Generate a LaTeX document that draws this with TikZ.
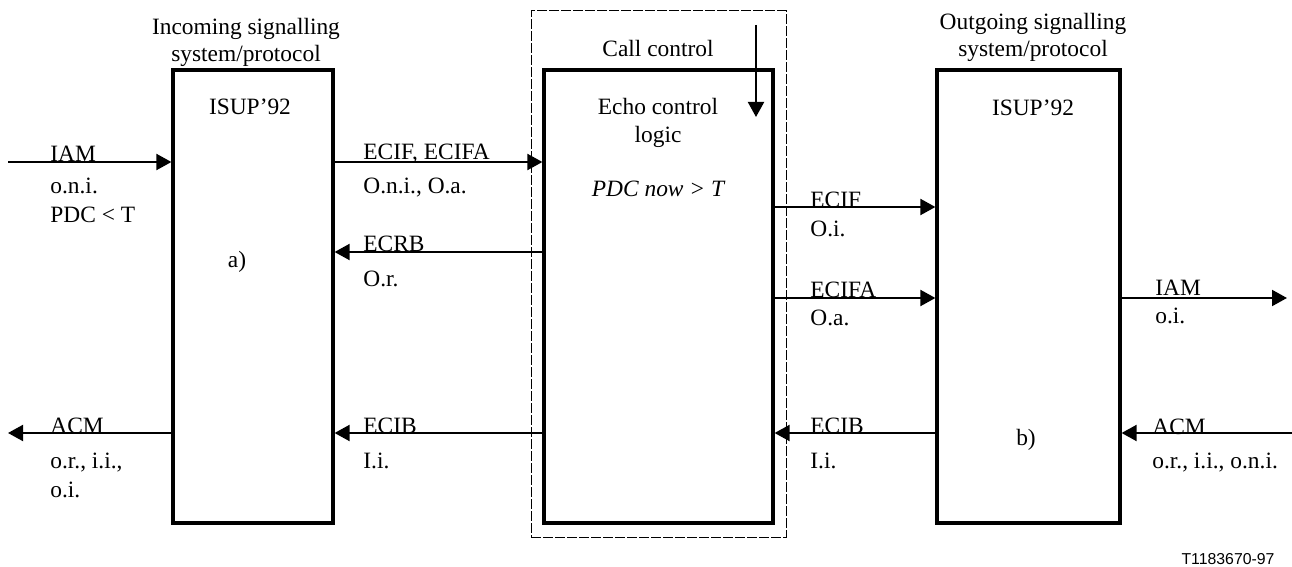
\documentclass[tikz,border=0pt]{standalone}
\usepackage{fontspec}
\setmainfont{Liberation Serif}
\newfontfamily\tagfont{Liberation Sans}
\usetikzlibrary{arrows.meta}
\tikzset{
  blk/.style={draw, rectangle, line width=1.6pt, inner sep=0pt},
  sig/.style={line width=1pt, -{Triangle[length=7.5pt,width=8pt]}},
  lbl/.style={anchor=base west, inner sep=0pt},
  mid/.style={anchor=base, inner sep=0pt, align=center}
}
\begin{document}
\begin{tikzpicture}[x=0.5pt,y=-0.5pt,font=\fontsize{11.7}{14}\selectfont]
\useasboundingbox (0,0) rectangle (1292,567);
\node[draw, rectangle, line width=0.5pt, dash pattern=on 5pt off 1pt, inner sep=0pt,
      minimum width=127.5pt, minimum height=263pt] (callctl) at (658.5,274) {};
\node[blk, minimum width=80pt, minimum height=226.5pt] (inbox) at (253,296.5) {};
\node[blk, minimum width=114.5pt, minimum height=226.5pt] (ccbox) at (658.5,296.5) {};
\node[blk, minimum width=91.5pt, minimum height=226.5pt] (outbox) at (1028.5,296.5) {};
\node[mid] (intitle1) at (246,35) {Incoming signalling};
\node[mid] (intitle2) at (246,62) {system/protocol};
\node[mid] (cctitle) at (658,57) {Call control};
\node[mid] (outtitle1) at (1033,30) {Outgoing signalling};
\node[mid] (outtitle2) at (1033,57) {system/protocol};
\node[mid] (inisup) at (250,115) {ISUP'92};
\node[mid] (outisup) at (1033,116) {ISUP'92};
\node[mid] (echo1) at (658,115) {Echo control};
\node[mid] (echo2) at (658,143) {logic};
\node[mid] (pdcnow) at (658,197) {\itshape PDC now > T};
\node[mid] (tagA) at (237,267) {a)};
\node[mid] (tagB) at (1026,445) {b)};
\node[anchor=base, inner sep=0pt, font=\tagfont\fontsize{7.9}{9}\selectfont] (figno) at (1228,564) {T1183670-97};
\coordinate (ctrltop) at (756,25);
\coordinate (ctrlend) at (756,117);
\coordinate (iamin) at (8,162);
\coordinate (iamout) at (1287,298);
\coordinate (acmin) at (1292,433);
\coordinate (acmout) at (8,433);
\coordinate (rowA) at (0,162);
\coordinate (rowB) at (0,252);
\coordinate (rowC) at (0,207);
\coordinate (rowD) at (0,298);
\coordinate (rowE) at (0,433);
\draw[sig] (ctrltop) -- (ctrlend);
\draw[sig] (iamin) -- (inbox.west |- iamin);
\draw[sig] (inbox.east |- rowA) -- (ccbox.west |- rowA);
\draw[sig] (ccbox.west |- rowB) -- (inbox.east |- rowB);
\draw[sig] (ccbox.east |- rowC) -- (outbox.west |- rowC);
\draw[sig] (ccbox.east |- rowD) -- (outbox.west |- rowD);
\draw[sig] (outbox.east |- iamout) -- (iamout);
\draw[sig] (acmin) -- (outbox.east |- acmin);
\draw[sig] (outbox.west |- rowE) -- (ccbox.east |- rowE);
\draw[sig] (ccbox.west |- rowE) -- (inbox.east |- rowE);
\draw[sig] (inbox.west |- acmout) -- (acmout);
\node[lbl] (iamA) at (50,162) {IAM};
\node[lbl] (iamB) at (50,193) {o.n.i.};
\node[lbl] (iamC) at (50,222) {PDC < T};
\node[lbl] (ecifA) at (363,160) {ECIF, ECIFA};
\node[lbl] (ecifB) at (363,194) {O.n.i., O.a.};
\node[lbl] (ecrbA) at (363,251) {ECRB};
\node[lbl] (ecrbB) at (363,286) {O.r.};
\node[lbl] (ecibA) at (363,433) {ECIB};
\node[lbl] (ecibB) at (363,468) {I.i.};
\node[lbl] (acmA) at (50,433) {ACM};
\node[lbl] (acmB) at (50,468) {o.r., i.i.,};
\node[lbl] (acmC) at (50,497) {o.i.};
\node[lbl] (oifA) at (810,207) {ECIF};
\node[lbl] (oifB) at (810,236) {O.i.};
\node[lbl] (oifaA) at (810,298) {ECIFA};
\node[lbl] (oifaB) at (810,325) {O.a.};
\node[lbl] (oibA) at (810,433) {ECIB};
\node[lbl] (oibB) at (810,468) {I.i.};
\node[lbl] (oiamA) at (1155,295) {IAM};
\node[lbl] (oiamB) at (1155,323) {o.i.};
\node[lbl] (oacmA) at (1152,434) {ACM};
\node[lbl] (oacmB) at (1152,468) {o.r., i.i., o.n.i.};
\end{tikzpicture}
\end{document}
